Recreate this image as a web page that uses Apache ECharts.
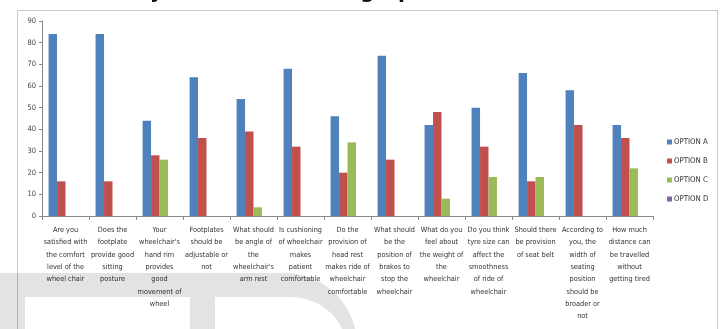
<!DOCTYPE html>
<html lang="en">
<head>
    <meta charset="UTF-8">
    <title>Wheelchair survey</title>
    <script src="https://cdn.jsdelivr.net/npm/echarts@6/dist/echarts.min.js"></script>
    <style>
        html, body { margin: 0; padding: 0; background: #fff; }
        #chart { width: 720px; height: 329px; }
    </style>
</head>
<body>
    <div id="chart"></div>
    <script>
        // questions on the x axis (line breaks as in the picture)
        const questions = [
            'Are you\nsatisfied with\nthe comfort\nlevel of the\nwheel chair',
            'Does the\nfootplate\nprovide good\nsitting\nposture',
            'Your\nwheelchair\'s\nhand rim\nprovides\ngood\nmovement of\nwheel',
            'Footplates\nshould be\nadjustable or\nnot',
            'What should\nbe angle of\nthe\nwheelchair\'s\narm rest',
            'Is cushioning\nof wheelchair\nmakes\npatient\ncomfortable',
            'Do the\nprovision of\nhead rest\nmakes ride of\nwheelchair\ncomfortable',
            'What should\nbe the\nposition of\nbrakes to\nstop the\nwheelchair',
            'What do you\nfeel about\nthe weight of\nthe\nwheelchair',
            'Do you think\ntyre size can\naffect the\nsmoothness\nof ride of\nwheelchair',
            'Should there\nbe provision\nof seat belt',
            'According to\nyou, the\nwidth of\nseating\nposition\nshould be\nbroader or\nnot',
            'How much\ndistance can\nbe travelled\nwithout\ngetting tired'
        ];

        const seriesNames = ['OPTION A', 'OPTION B', 'OPTION C', 'OPTION D'];
        const optionA = [84, 84, 44, 64, 54, 68, 46, 74, 42, 50, 66, 58, 42];
        const optionB = [16, 16, 28, 36, 39, 32, 20, 26, 48, 32, 16, 42, 36];
        const optionC = [0, 0, 26, 0, 4, 0, 34, 0, 8, 18, 18, 0, 22];
        const optionD = [0, 0, 0, 0, 0, 0, 0, 0, 0, 0, 0, 0, 0];
        const colors = ['#4F81BD', '#C0504D', '#9BBB59', '#8064A2'];

        const narrow = '"Liberation Sans Narrow", "DejaVu Sans Condensed", sans-serif';

        // outline of the "D" in the watermark: straight top, then a curved right side
        function dShape(x0, x1, top, right, bottom) {
            const pts = [[x0, bottom], [x0, top], [x1, top]];
            for (let i = 1; i <= 12; i++) {
                const a = (Math.PI / 2) * i / 12;
                pts.push([x1 + (right - x1) * Math.sin(a), top + (bottom - top) * (1 - Math.cos(a))]);
            }
            return pts;
        }

        const chart = echarts.init(document.getElementById('chart'));

        function bar(name, data, color) {
            return {
                name: name,
                type: 'bar',
                data: data,
                barGap: '0%',
                barCategoryGap: '28%',
                itemStyle: { color: color }
            };
        }

        const option = {
            animation: false,
            grid: { left: 42, right: 67, top: 21, bottom: 113, containLabel: false },
            legend: {
                orient: 'vertical',
                left: 667,
                top: 137,
                icon: 'rect',
                itemWidth: 5,
                itemHeight: 5,
                itemGap: 9,
                padding: 0,
                data: seriesNames,
                textStyle: { fontSize: 7.8, color: '#333', fontFamily: narrow, lineHeight: 10, padding: [0, 0, 0, -3] }
            },
            xAxis: {
                type: 'category',
                data: questions,
                axisLine: { lineStyle: { color: '#888' } },
                axisTick: { show: true, length: 4, interval: 0, lineStyle: { color: '#888' } },
                axisLabel: {
                    interval: 0,
                    margin: 8,
                    fontSize: 7.3,
                    lineHeight: 12.3,
                    color: '#333',
                    fontFamily: narrow
                }
            },
            yAxis: {
                type: 'value',
                min: 0,
                max: 90,
                interval: 10,
                splitLine: { show: false },
                axisLine: { show: true, lineStyle: { color: '#888' } },
                axisTick: { show: true, length: 3, lineStyle: { color: '#888' } },
                axisLabel: { fontSize: 7.5, color: '#444', margin: 6, fontFamily: narrow }
            },
            series: [
                bar(seriesNames[0], optionA, colors[0]),
                bar(seriesNames[1], optionB, colors[1]),
                bar(seriesNames[2], optionC, colors[2]),
                bar(seriesNames[3], optionD, colors[3])
            ],
            graphic: [
                // chart frame
                { type: 'rect', shape: { x: 17.5, y: 10.5, width: 700, height: 400 },
                  style: { fill: 'none', stroke: '#c8c8c8', lineWidth: 1 }, z: -10, silent: true },
                // title, cut off at the top of the picture
                { type: 'text', x: 100, y: 3,
                  style: { text: 'Analysis of the data in graph', font: 'bold 20px "DejaVu Sans"', fill: '#111', verticalAlign: 'bottom' },
                  z: 10, silent: true },
                // grey watermark letters
                { type: 'rect', shape: { x: 0, y: 273, width: 190, height: 24 },
                  style: { fill: 'rgba(0,0,0,0.11)' }, z: 20, silent: true },
                { type: 'rect', shape: { x: 0, y: 297, width: 25, height: 40 },
                  style: { fill: 'rgba(0,0,0,0.11)' }, z: 20, silent: true },
                { type: 'polygon', shape: { points: dShape(190, 285, 273, 357, 345) },
                  style: { fill: 'rgba(0,0,0,0.11)' }, z: 20, silent: true },
                { type: 'polygon', shape: { points: dShape(215, 290, 297, 347, 350) },
                  style: { fill: '#fff' }, z: 21, silent: true }
            ]
        };

        chart.setOption(option);
    </script>
</body>
</html>
